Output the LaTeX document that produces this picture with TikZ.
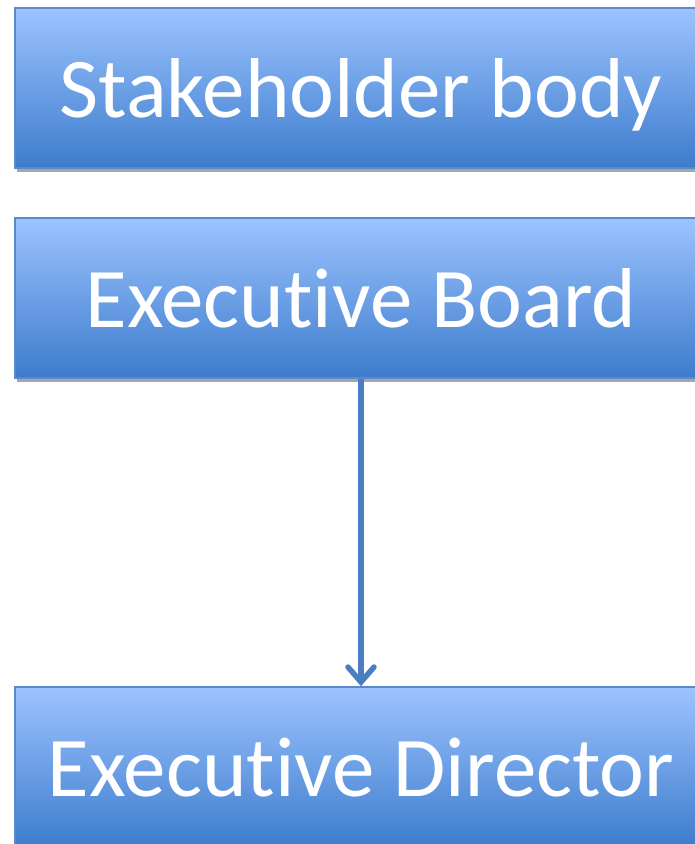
\documentclass[tikz,border=0pt]{standalone}
\usepackage{fontspec}
\setmainfont[Ligatures={NoCommon,NoContextual}, Contextuals=NoAlternate]{Carlito}
\usepackage{xcolor}
\usetikzlibrary{arrows.meta, positioning, shadows}

\definecolor{boxtop}{HTML}{9CC3FF}
\definecolor{boxbottom}{HTML}{3D7CCC}
\definecolor{boxline}{HTML}{5A8AC8}
\definecolor{arrowblue}{HTML}{4A7EC0}

\tikzset{
  orgbox/.style={draw=boxline, line width=1.5pt, top color=boxtop, bottom color=boxbottom,
    minimum width=692pt, minimum height=160pt, inner sep=0pt, text=white, text depth=0pt,
    font=\fontsize{85}{92}\selectfont,
    drop shadow={shadow xshift=2pt, shadow yshift=-4pt, opacity=0.35, fill=black}},
}

\begin{document}
\begin{tikzpicture}[x=1pt, y=1pt]
    \useasboundingbox (0,0) rectangle (695,-844);
    \node[orgbox] (stakeholder) at (361,-88) {Stakeholder body};
    \node[orgbox] (board) at (361,-298) {Executive Board};
    \node[orgbox] (director) at (361,-767) {Executive Director};
    \draw[arrowblue, line width=5.5pt, -{Straight Barb[length=15pt, width=26pt, line cap=round]}] (board.south) -- (director.north);
  \end{tikzpicture}
\end{document}
